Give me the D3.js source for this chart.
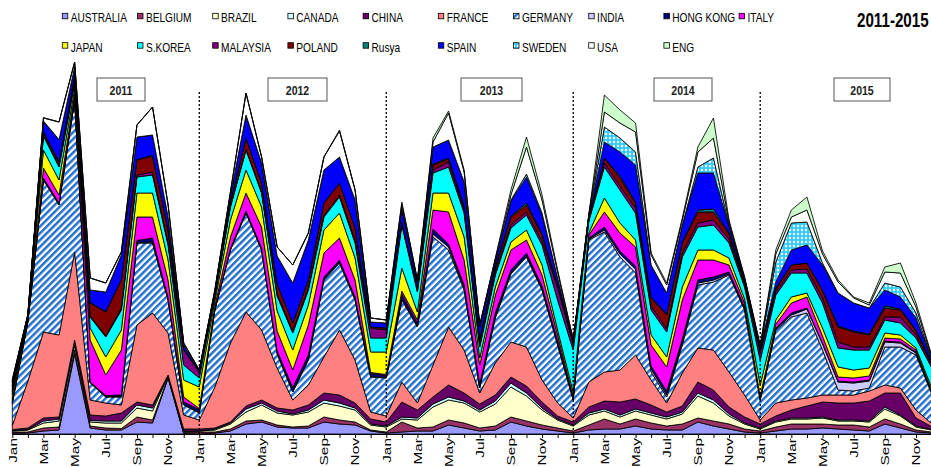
<!DOCTYPE html>
<html><head><meta charset="utf-8">
<script src="https://cdn.jsdelivr.net/npm/d3@7"></script>
<style>body{margin:0;background:#fff;overflow:hidden}svg{display:block}</style>
</head><body>
<svg id="chart" width="931" height="467"></svg>
<script>
// ---------- DATA ----------
const monthNames = ["Jan","Feb","Mar","Apr","May","Jun","Jul","Aug","Sep","Oct","Nov","Dec"];
const years = ["2011","2012","2013","2014","2015"];
const months = years.flatMap(y => monthNames.map(m => m + " " + y));
const tickLabels = ["Jan","Mar","May","Jul","Sep","Nov"];
const title = "2011-2015";
const seriesNames = ["AUSTRALIA","BELGIUM","BRAZIL","CANADA","CHINA","FRANCE","GERMANY","INDIA","HONG KONG","ITALY",
                     "JAPAN","S.KOREA","MALAYSIA","POLAND","Rusya","SPAIN","SWEDEN","USA","ENG"];

const australia = [1,1,3,4,80,6,4,4,12,11,56,0.5, 0,1,3,10,12,7,6,6,12,10,9,3, 1,2,3,3,9,6,3,4,12,8,5,3, 1,4,5,5,8,5,4,4,12,8,5,2, 1,3,5,5,6,5,4,3,10,6,2,1];
const belgium   = [1,1,3,3,4,2,2,1.5,5,3,1,1, 2,1,2,3,2,2,1,2,5,4,3,1, 1,10,3,4,5,5,3,4,5,5,4,3, 2,5,10,5,7,6,4,6,4,5,5,3, 2,4,5,5,4,4,5,4,5,4,2,1];
const brazil    = [1,2,5,6,5,4,5,5.5,9,9,1,1, 1,2,5,9,15,12,12,14,14,14,12,5, 5,3,8,20,20,20,16,22,30,25,15,8, 5,10,8,7,8,8,7,10,22,18,8,5, 2,5,5,5,6,4,4,5,10,8,3,2];
const canada    = [0.5,0.5,2,2,2,1.5,2,2,3,3,0.5,0.5, 0,1,1,3,2,2,1,2,3,3,2,1, 1,2,2,3,3,2,2,3,4,3,2,1, 1,2,2,2,2,2,2,2,3,3,2,1, 1,1,1,1,1,1,1,1,2,1,1,0.5];
const china     = [1,1.5,3,2,3,5.5,5,8,3,3,0.5,2, 2,1,1,3,3,3,4,5,7,8,5,5, 4,15,8,7,12,8,6,6,6,7,6,3, 3,6,8,13,10,8,5,6,11,10,7,6, 4,5,8,12,15,17,17,20,14,22,8,3];
const france    = [4,47,86,82,88,15,13,8,77,92,42,14, 9,41,79,94,70,40,10,20,36,65,43,7, 6,20,7,32,58,43,11,32,35,39,22,13, 4,25,29,32,44,25,9,33,34,40,35,22, 4,13,10,8,7,8,8,10,8,5,8,3];
const germany   = [22,59,152,130,152,17,6,8,82,70,33,10, 7,77,93,99,80,14,8,25,77,67,60,35, 38,82,76,128,77,60,5,45,68,90,90,58, 18,142,140,113,82,8,6,28,63,68,97,85, 20,73,83,85,45,5,4,3,38,41,55,30];
const india     = [1,0.5,1,1,1,0.5,0.5,0.5,0.5,1,0.5,1, 0.5,0.5,0.5,0.5,0.5,1,0.5,1,1,1,1,0.5, 0.5,1,1,3,3,2,1,2,1,1,1,1, 0.5,1,2,3,4,3,2,3,2,2,1,1, 0.5,1,2,4,6,8,8,7,5,4,2,1];
const hongKong  = [1,0.5,1,1,1,0.5,1,1.5,2,4,1.5,2, 3,0.5,1,1.5,1.5,2,4,4,2,2,2,3, 2,5,3,5,3,3,3,3,3,3,3,3, 2,1,3,3,3,3,4,3,3,3,2,2, 2,1,2,1,1,1,1,1,1,1,1,1];
const italy     = [2,1,10,8,4,42,20.5,45,23.5,21,18,5, 1,3,11.5,18,21,20,17.5,30,24,22,17,1, 1,3,3,19,32,25,19,18,20,13,11,6, 1,3,15,18,19,21,24,39,20,17,7,4, 1,4,10,11,7,4,4,4,3,3,2,1];
const japan     = [5,2,18,15,5,12,18,20,24,24,20,17, 21.5,5,17,23,20,20,20,20,23,25,22,20.5, 22.5,23,8,17,19,23,7,8,8,10,10,5, 4.5,2,14,10,7,10,10,13,10,10,7,4, 11.5,4,6,4,8,10,8,8,5,4,2,3];
const sKorea    = [3,1,14,13,6,11,20,20,16,18,15,15, 9,5,13,20,14,15,17,15,13,16,15,14, 14,43,20,20,26,24,11,12,14,15,20,30, 42,12,31,33,27,25,25,30,23,25,15,12, 25,25,24,20,25,19,20,18,13,12,10,20];
const malaysia  = [2,0.5,2,2,2,1,1,2,2,3,2,15, 6,1,1,1,1,2,2,2,2,2,3,10, 8,2,2,3,5,3,2,2,3,3,4,12, 6,1,4,4,5,4,3,4,4,5,4,3, 8,3,3,4,5,6,3,3,3,6,3,3];
const poland    = [3,0.5,2,3,5,13,24,28,15,16,13,1, 0.5,1,4,11,9,10,8,8,12,12,12,1, 2,1,2,5,3,3,6,5,8,7,6,2, 1,1,5,8,5,8,14,10,11,8,5,2, 1,3,5,6,7,15,15,12,9,7,4,2];
const rusya     = [0.5,0,0.5,0.5,0.5,0.5,0.5,0.5,0.5,0.5,0,0, 0,0,0,0,0,0,0,0,0,0,0,0, 0,0,0,1,1,1,0,1,1,2,1,1, 1,0,0,2,1,1,1,1,2,3,1,1, 1,1,0,0,1,1,1,1,2,1,1,0.5];
const spain     = [4,1,10,21.5,8,12.5,19.5,24.5,22.5,20.5,13,4, 1,2,7,23,20,28,40,40,33,26,28,5, 5,14,6,17,18,24,12,6,15,26,19,7, 1,2,16,24,37,32,21,17,37,36,7,2, 2,6,15,18,25,33,28,26,16,12,12,3];
const sweden    = [0,0,0.5,0.5,0.5,0,0,0,0,0,0,0, 0,0,0,0,0,0,0,0,0,0,0,0, 0,0,0,0,0,0,0,0,1,3,2,0, 0,1,15,14,13,0,0,0,6,15,1,0, 1,20,27,23,2,0,0,0,7,10,5,1];
const usa       = [2,0.5,3,17.5,5,12,9,3,12,28,12,2, 0.5,2,3,22,6,9,18,7,13,26,10,4, 3,4,2,5,27,10,2,2,5,27,13,6, 1,1,15,15,20,10,8,5,15,20,3,1, 1,8,6,12,9,11,5,3,11,14,6,2];
const eng       = [0.5,0,0.5,0,0,0,0,0,0,0,0,0, 0,0,0,0,0,0,0,0,0,1,0,0, 0,2,0,4,2,2,0,1,5,10,5,2, 0,0,17,13,9,2,2,2,5,20,2,1, 1,4,7,13,3,2,1,2,5,10,4,1];

const seriesValues = [australia,belgium,brazil,canada,china,france,germany,india,hongKong,italy,
                      japan,sKorea,malaysia,poland,rusya,spain,sweden,usa,eng];

// ---------- STYLE ----------
const fills = ["#9999FF","#993366","#FFFFCC","#CCFFFF","#660066","#FF8080","url(#hatch)","#CCCCFF","#000080","#FF00FF",
               "#FFFF00","#00FFFF","#800080","#800000","#008080","#0000FF","url(#dots)","#FFFFFF","#CCFFCC"];
const yearBoxes = [[97,48],[268,59],[461,61],[654,58],[834,56]];

const svg = d3.select("#chart");
const FONT = '"Liberation Sans", Arial, sans-serif';

const defs = svg.append("defs");
const hatch = defs.append("pattern").attr("id","hatch").attr("patternUnits","userSpaceOnUse")
  .attr("width",4.8).attr("height",4.8).attr("patternTransform","rotate(45)");
hatch.append("rect").attr("width",4.8).attr("height",4.8).attr("fill","#fff");
hatch.append("rect").attr("width",2.5).attr("height",4.8).attr("fill","#2270CC");
const dots = defs.append("pattern").attr("id","dots").attr("patternUnits","userSpaceOnUse")
  .attr("width",4).attr("height",4);
dots.append("rect").attr("width",4).attr("height",4).attr("fill","#33CCFF");
dots.append("circle").attr("cx",2).attr("cy",2).attr("r",1.2).attr("fill","#fff");

// ---------- SCALES ----------
const x = d3.scaleLinear().domain([0, months.length-1]).range([12.3, 931.6]);
const y = d3.scaleLinear().domain([0, 380]).range([434, 54]);

const rows = months.map((m,i) => {
  const r = {month:m, i:i};
  seriesNames.forEach((s,k) => r[s] = seriesValues[k][i]);
  return r;
});
const stacked = d3.stack().keys(seriesNames)(rows);

const area = d3.area()
  .x(d => x(d.data.i))
  .y0(d => y(d[0]))
  .y1(d => y(d[1]));

svg.append("g").selectAll("path").data(stacked).join("path")
  .attr("d", area)
  .attr("fill", (d,k) => fills[k])
  .attr("stroke", "#000")
  .attr("stroke-width", 0.85)
  .attr("stroke-linejoin","round");

// ---------- AXIS ----------
const axis = d3.axisBottom(x)
  .tickValues(d3.range(months.length))
  .tickSize(4).tickSizeOuter(0)
  .tickFormat(i => i % 2 === 0 ? tickLabels[(i % 12) / 2] : "");
const ag = svg.append("g").attr("transform","translate(0,434)").call(axis);
ag.select(".domain").attr("stroke","#000").attr("stroke-width",1);
ag.selectAll(".tick line").attr("stroke","#000");
ag.selectAll("text")
  .attr("x",0).attr("y",0).attr("dy","0.35em")
  .attr("text-anchor","end")
  .attr("font-family",FONT).attr("font-size",11).attr("fill","#000")
  .attr("transform","translate(0,4) rotate(-90) scale(1.4,1)");

// ---------- YEAR SEPARATORS ----------
[12,24,36,48].forEach(i => {
  svg.append("line").attr("x1",x(i)).attr("x2",x(i)).attr("y1",92).attr("y2",434)
    .attr("stroke","#000").attr("stroke-width",1.3).attr("stroke-dasharray","2,2");
});

// ---------- YEAR BOXES ----------
years.forEach((yr,k) => {
  const [bx,bw] = yearBoxes[k];
  svg.append("rect").attr("x",bx).attr("y",78).attr("width",bw).attr("height",23)
    .attr("fill","#fff").attr("stroke","#555").attr("stroke-width",1);
  svg.append("text").attr("transform",`translate(${bx+bw/2},94.5) scale(0.78,1)`)
    .attr("text-anchor","middle").attr("font-family",FONT).attr("font-weight","bold")
    .attr("font-size",13.5).attr("fill","#222").text(yr);
});

// ---------- LEGEND ----------
seriesNames.forEach((s,k) => {
  const row = k < 10 ? 0 : 1;
  const col = k < 10 ? k : k - 10;
  const lx = 62.3 + 75.2*col;
  const sy = row === 0 ? 13.3 : 42.7;
  const ty = row === 0 ? 21.7 : 51.6;
  svg.append("rect").attr("x",lx).attr("y",sy).attr("width",5.5).attr("height",5.5)
    .attr("fill",fills[k]).attr("stroke","#000").attr("stroke-width",0.8);
  svg.append("text").attr("transform",`translate(${lx+8.4},${ty}) scale(0.81,1)`)
    .attr("font-family",FONT).attr("font-size",12.5).attr("fill","#000").text(s);
});

// ---------- TITLE ----------
svg.append("text").attr("transform","translate(857,26.7) scale(0.74,1)")
  .attr("font-family",FONT).attr("font-weight","bold").attr("font-size",20.5)
  .attr("fill","#000").text(title);
</script>
</body></html>
